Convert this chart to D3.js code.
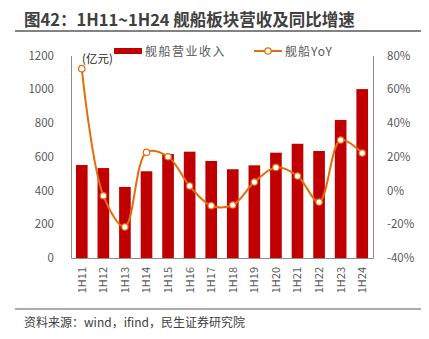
<!DOCTYPE html>
<html>
<head>
<meta charset="utf-8">
<script src="https://cdn.jsdelivr.net/npm/d3@7"></script>
<style>
  body { margin: 0; background: #fff; }
  text { font-family: "Noto Sans CJK SC", "Noto Sans", sans-serif; }
</style>
</head>
<body>
<div id="chart"></div>
<script>
// data
var categories = ["1H11", "1H12", "1H13", "1H14", "1H15", "1H16", "1H17", "1H18", "1H19", "1H20", "1H21", "1H22", "1H23", "1H24"];
var revenue = [551, 533, 421, 514, 616, 630, 575, 526, 549, 624, 677, 634, 818, 1001];
var yoy = [72.2, -3.1, -21.6, 22.6, 20.0, 2.7, -9.0, -8.6, 5.0, 13.7, 8.6, -6.8, 29.9, 22.2];
var leftTicks = [0, 200, 400, 600, 800, 1000, 1200];
var rightTicks = [-40, -20, 0, 20, 40, 60, 80];

var W = 429, H = 339;
var plot = { left: 71, right: 373, top: 55.5, bottom: 258 };

var svg = d3.select("#chart").append("svg")
    .attr("width", W)
    .attr("height", H);

// title
svg.append("text")
    .attr("x", 24)
    .attr("y", 26)
    .attr("font-size", 16.5)
    .attr("font-weight", "bold")
    .attr("fill", "#404040")
    .text("图42：1H11~1H24 舰船板块营收及同比增速");

svg.append("line")
    .attr("x1", 15).attr("x2", 421)
    .attr("y1", 31).attr("y2", 31)
    .attr("stroke", "#595959")
    .attr("stroke-width", 1.6);

// scales
var x = d3.scaleBand()
    .domain(categories)
    .range([plot.left, plot.right])
    .paddingInner(0.46)
    .paddingOuter(0.23);

var yL = d3.scaleLinear().domain([0, 1200]).range([plot.bottom, plot.top]);
var yR = d3.scaleLinear().domain([-40, 80]).range([plot.bottom, plot.top]);

// axes
var axisL = svg.append("g")
    .attr("transform", "translate(" + plot.left + ",0)")
    .call(d3.axisLeft(yL).tickValues(leftTicks).tickSize(0).tickPadding(17)
        .tickFormat(function (d) { return String(d); }));

var axisR = svg.append("g")
    .attr("transform", "translate(" + plot.right + ",0)")
    .call(d3.axisRight(yR).tickValues(rightTicks).tickSize(0).tickPadding(14)
        .tickFormat(function (d) { return d + "%"; }));

var axisB = svg.append("g")
    .attr("transform", "translate(0," + plot.bottom + ")")
    .call(d3.axisBottom(x).tickSize(0).tickPadding(8));

[axisL, axisR, axisB].forEach(function (a) {
    a.select(".domain").attr("stroke", "#8c8c8c").attr("stroke-width", 1);
    a.selectAll("text")
        .attr("font-size", 11.5)
        .attr("fill", "#595959")
        .style("font-family", "'Noto Sans CJK SC', sans-serif");
});

axisB.selectAll("text")
    .attr("transform", "rotate(-90)")
    .attr("text-anchor", "end")
    .attr("dy", "0.35em")
    .attr("x", -9)
    .attr("y", 0)
    .attr("font-size", 11);

// bars
svg.append("g")
    .selectAll("rect")
    .data(revenue)
    .enter()
    .append("rect")
    .attr("x", function (d, i) { return x(categories[i]); })
    .attr("y", function (d) { return yL(d); })
    .attr("width", x.bandwidth())
    .attr("height", function (d) { return yL(0) - yL(d); })
    .attr("fill", "#C00000");

// yoy line
var line = d3.line()
    .x(function (d, i) { return x(categories[i]) + x.bandwidth() / 2; })
    .y(function (d) { return yR(d); })
    .curve(d3.curveCatmullRom.alpha(0.5));

svg.append("path")
    .datum(yoy)
    .attr("d", line)
    .attr("fill", "none")
    .attr("stroke", "#E46C0A")
    .attr("stroke-width", 2);

svg.append("g")
    .selectAll("circle")
    .data(yoy)
    .enter()
    .append("circle")
    .attr("cx", function (d, i) { return x(categories[i]) + x.bandwidth() / 2; })
    .attr("cy", function (d) { return yR(d); })
    .attr("r", 3.2)
    .attr("fill", "#fff")
    .attr("stroke", "#E46C0A")
    .attr("stroke-width", 1.2);

// unit label
svg.append("text")
    .attr("x", 82)
    .attr("y", 63)
    .attr("font-size", 11.5)
    .attr("fill", "#262626")
    .text("(亿元)");

// legend
var lg = svg.append("g");
lg.append("rect")
    .attr("x", 114).attr("y", 48)
    .attr("width", 28).attr("height", 6)
    .attr("fill", "#C00000");
lg.append("text")
    .attr("x", 145).attr("y", 56)
    .attr("font-size", 12)
    .attr("letter-spacing", 1.5)
    .attr("fill", "#595959")
    .text("舰船营业收入");
lg.append("line")
    .attr("x1", 254).attr("x2", 282)
    .attr("y1", 51).attr("y2", 51)
    .attr("stroke", "#E46C0A")
    .attr("stroke-width", 2);
lg.append("circle")
    .attr("cx", 268).attr("cy", 51).attr("r", 3.2)
    .attr("fill", "#fff")
    .attr("stroke", "#E46C0A")
    .attr("stroke-width", 1.2);
lg.append("text")
    .attr("x", 285).attr("y", 56)
    .attr("font-size", 12)
    .attr("letter-spacing", 1)
    .attr("fill", "#595959")
    .text("舰船YoY");

// footer
svg.append("line")
    .attr("x1", 15).attr("x2", 421)
    .attr("y1", 309).attr("y2", 309)
    .attr("stroke", "#595959")
    .attr("stroke-width", 1.2);

svg.append("text")
    .attr("x", 24)
    .attr("y", 327)
    .attr("font-size", 12)
    .attr("fill", "#404040")
    .text("资料来源：wind，ifind，民生证券研究院");
</script>
</body>
</html>
